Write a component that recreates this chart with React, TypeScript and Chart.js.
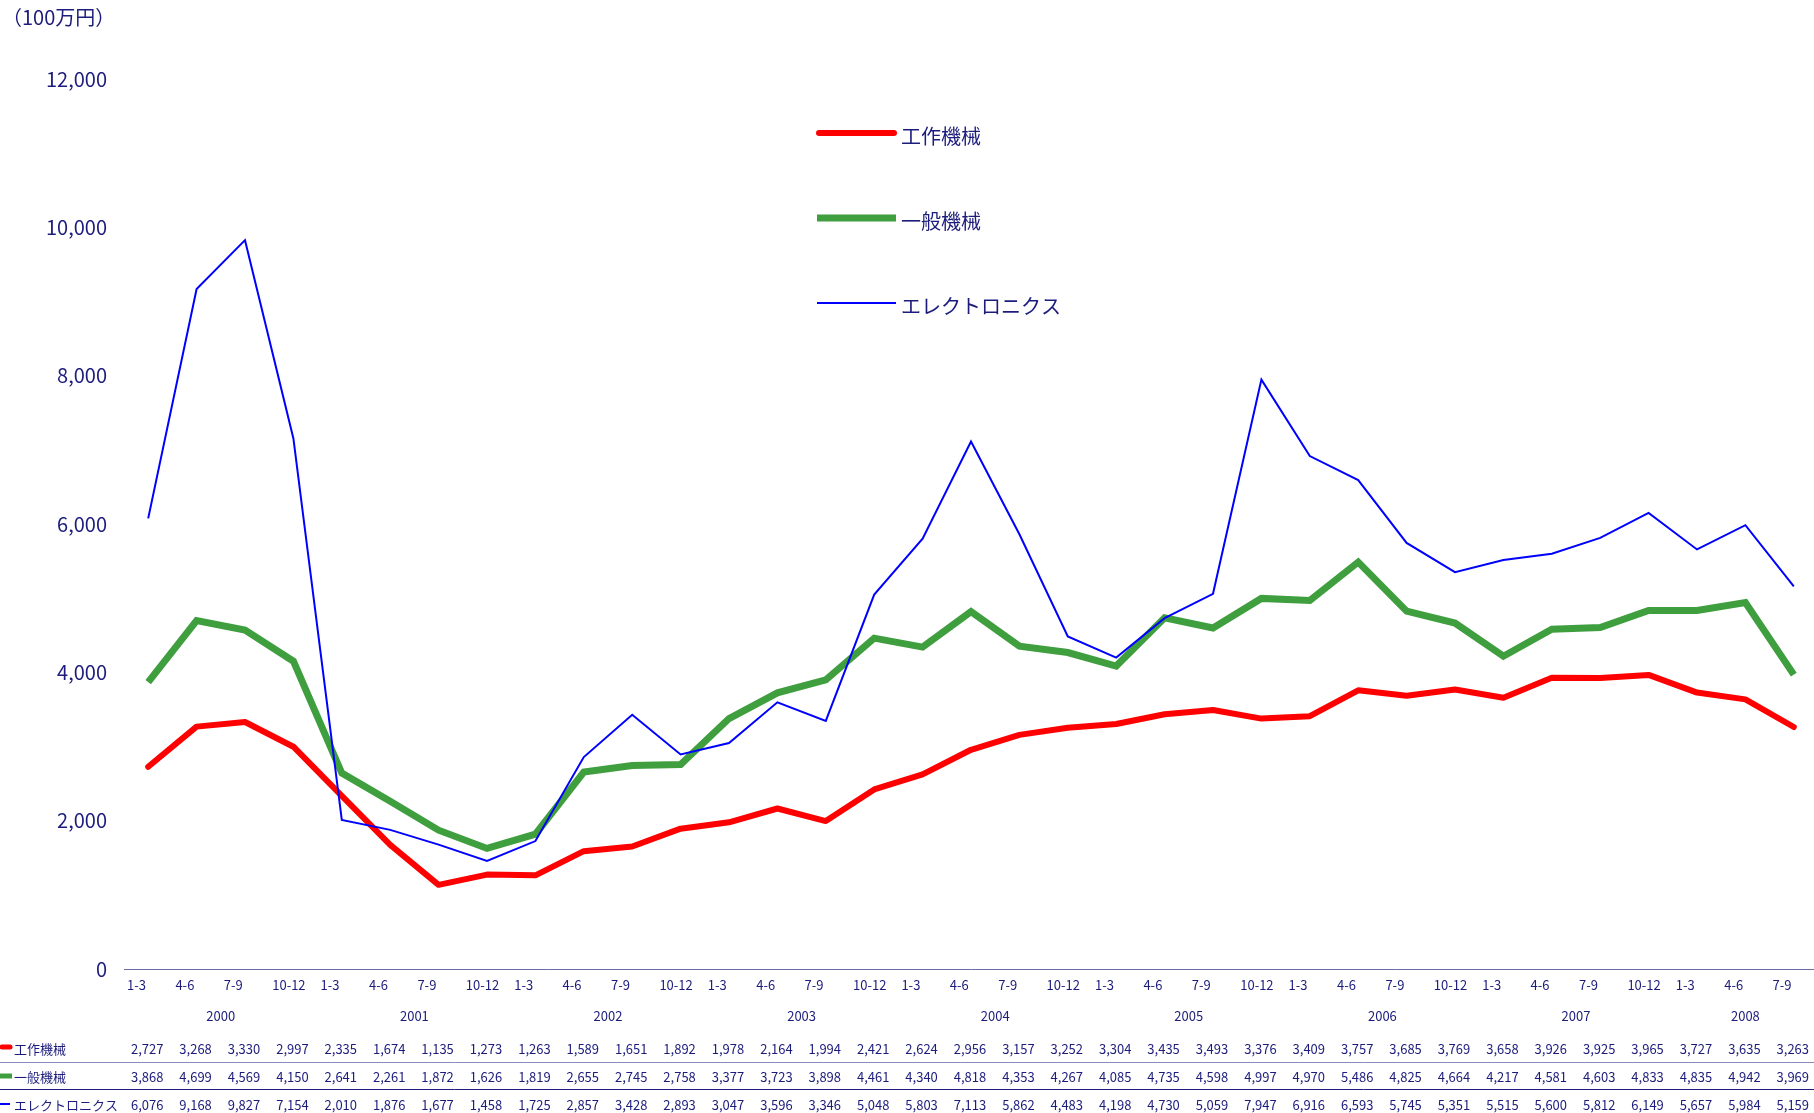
import React, { useEffect, useRef } from "react";
import { Chart, registerables } from "chart.js";

Chart.register(...registerables);

const years = ["2000", "2001", "2002", "2003", "2004", "2005", "2006", "2007", "2008"];
const quarters = ["1-3", "4-6", "7-9", "10-12"];
const categories: string[] = years.flatMap((y) => quarters.map((q) => q)).slice(0, 35);

const seriesNames = ["工作機械", "一般機械", "エレクトロニクス"];

const machineTools = [
  2727, 3268, 3330, 2997, 2335, 1674, 1135, 1273, 1263, 1589, 1651, 1892, 1978, 2164, 1994, 2421,
  2624, 2956, 3157, 3252, 3304, 3435, 3493, 3376, 3409, 3757, 3685, 3769, 3658, 3926, 3925, 3965,
  3727, 3635, 3263,
];
const generalMachinery = [
  3868, 4699, 4569, 4150, 2641, 2261, 1872, 1626, 1819, 2655, 2745, 2758, 3377, 3723, 3898, 4461,
  4340, 4818, 4353, 4267, 4085, 4735, 4598, 4997, 4970, 5486, 4825, 4664, 4217, 4581, 4603, 4833,
  4835, 4942, 3969,
];
const electronics = [
  6076, 9168, 9827, 7154, 2010, 1876, 1677, 1458, 1725, 2857, 3428, 2893, 3047, 3596, 3346, 5048,
  5803, 7113, 5862, 4483, 4198, 4730, 5059, 7947, 6916, 6593, 5745, 5351, 5515, 5600, 5812, 6149,
  5657, 5984, 5159,
];

const unitLabel = "（100万円）";
const yMax = 12000;
const yStep = 2000;

const NAVY = "#1c1c7c";
const FONT = "'Noto Sans CJK JP', 'Noto Sans', sans-serif";

const seriesColors = ["#ff0000", "#3f9f3f", "#0000ff"];
const seriesWidths = [6, 7, 2];

const overlayPlugin = {
  id: "overlay",
  afterDraw(chart: any) {
    const ctx: CanvasRenderingContext2D = chart.ctx;
    const xs = chart.scales.x;
    const band = xs.getPixelForValue(1) - xs.getPixelForValue(0);
    const W = chart.width;
    ctx.save();

    // unit label
    ctx.fillStyle = NAVY;
    ctx.font = `20px ${FONT}`;
    ctx.textAlign = "left";
    ctx.textBaseline = "middle";
    ctx.fillText(unitLabel, 2, 17);

    // legend
    chart.data.datasets.forEach((ds: any, i: number) => {
      const y = 133 + i * 85;
      ctx.beginPath();
      ctx.strokeStyle = ds.borderColor;
      ctx.lineWidth = ds.borderWidth;
      ctx.lineCap = i === 0 ? "round" : "butt";
      ctx.moveTo(i === 0 ? 819 : 817, y);
      ctx.lineTo(i === 0 ? 894 : 896, y);
      ctx.stroke();
      ctx.fillStyle = NAVY;
      ctx.font = `20px ${FONT}`;
      ctx.textAlign = "left";
      ctx.textBaseline = "middle";
      ctx.fillText(ds.label, 901, y + 3);
    });

    // quarter labels
    ctx.fillStyle = NAVY;
    ctx.font = `13px ${FONT}`;
    ctx.textAlign = "left";
    ctx.textBaseline = "middle";
    categories.forEach((c, i) => {
      const px = xs.getPixelForValue(i) - band / 2 + 3;
      ctx.fillText(c, px, 985);
    });

    // year labels
    ctx.textAlign = "center";
    years.forEach((y, k) => {
      const first = k * 4;
      const last = Math.min(k * 4 + 3, categories.length - 1);
      const cx = (xs.getPixelForValue(first) + xs.getPixelForValue(last)) / 2;
      ctx.fillText(y, cx, 1016);
    });

    // table separators
    ctx.lineCap = "butt";
    ctx.beginPath();
    ctx.strokeStyle = "#8a8abf";
    ctx.lineWidth = 1;
    ctx.moveTo(0, 1062.5);
    ctx.lineTo(W, 1062.5);
    ctx.stroke();
    ctx.beginPath();
    ctx.strokeStyle = "#1e1e78";
    ctx.moveTo(0, 1089.5);
    ctx.lineTo(W, 1089.5);
    ctx.stroke();

    // table rows
    chart.data.datasets.forEach((ds: any, i: number) => {
      const y = 1049 + i * 28;
      ctx.beginPath();
      ctx.strokeStyle = ds.borderColor;
      if (i === 0) {
        ctx.lineWidth = 5;
        ctx.lineCap = "round";
        ctx.moveTo(2, y - 2);
        ctx.lineTo(10, y - 2);
      } else if (i === 1) {
        ctx.lineWidth = 5;
        ctx.lineCap = "butt";
        ctx.moveTo(0, y - 1);
        ctx.lineTo(12, y - 1);
      } else {
        ctx.lineWidth = 2;
        ctx.lineCap = "butt";
        ctx.moveTo(0, y - 1);
        ctx.lineTo(10, y - 1);
      }
      ctx.stroke();
      ctx.fillStyle = NAVY;
      ctx.font = `13px ${FONT}`;
      ctx.textAlign = "left";
      ctx.textBaseline = "middle";
      ctx.fillText(ds.label, 14, y);
      ctx.textAlign = "center";
      (ds.data as number[]).forEach((v, j) => {
        ctx.fillText(v.toLocaleString("en-US"), xs.getPixelForValue(j) - 1, y);
      });
    });

    ctx.restore();
  },
};

export default function App() {
  const canvasRef = useRef<HTMLCanvasElement | null>(null);

  useEffect(() => {
    if (!canvasRef.current) return;
    Chart.defaults.font.family = FONT;
    const seriesData = [machineTools, generalMachinery, electronics];
    const orders = [2, 3, 1];
    const chart = new Chart(canvasRef.current, {
      type: "line",
      data: {
        labels: categories,
        datasets: seriesNames.map((name, i) => ({
          label: name,
          data: seriesData[i],
          borderColor: seriesColors[i],
          backgroundColor: seriesColors[i],
          borderWidth: seriesWidths[i],
          pointRadius: 0,
          tension: 0,
          fill: false,
          order: orders[i],
          borderCapStyle: i === 0 ? "round" : "butt",
          borderJoinStyle: i === 0 ? "round" : "miter",
        })),
      },
      options: {
        responsive: false,
        animation: false,
        events: [],
        layout: { padding: { top: 79, right: 0, bottom: 0, left: 0 } },
        plugins: {
          legend: { display: false },
          tooltip: { enabled: false },
          title: { display: false },
        },
        scales: {
          x: {
            type: "category",
            offset: true,
            grid: { display: false, drawTicks: false },
            border: { display: true, color: "#6b6ba8", width: 1 },
            ticks: { display: false, autoSkip: false, maxRotation: 0, minRotation: 0 },
            afterFit: (scale: any) => {
              scale.height = 144;
            },
          },
          y: {
            min: 0,
            max: yMax,
            grid: { display: false, drawTicks: false },
            border: { display: false },
            ticks: {
              stepSize: yStep,
              padding: 17,
              color: NAVY,
              font: { size: 20, family: FONT },
              callback: (v: any) => Number(v).toLocaleString("en-US"),
            },
            afterFit: (scale: any) => {
              scale.width = 124;
            },
          },
        },
      },
      plugins: [overlayPlugin],
    });
    return () => chart.destroy();
  }, []);

  return (
    <div style={{ position: "fixed", left: 0, top: 0, width: 1814, height: 1113, overflow: "hidden", background: "#ffffff" }}>
      <canvas ref={canvasRef} width={1818} height={1113} style={{ display: "block" }} />
    </div>
  );
}
